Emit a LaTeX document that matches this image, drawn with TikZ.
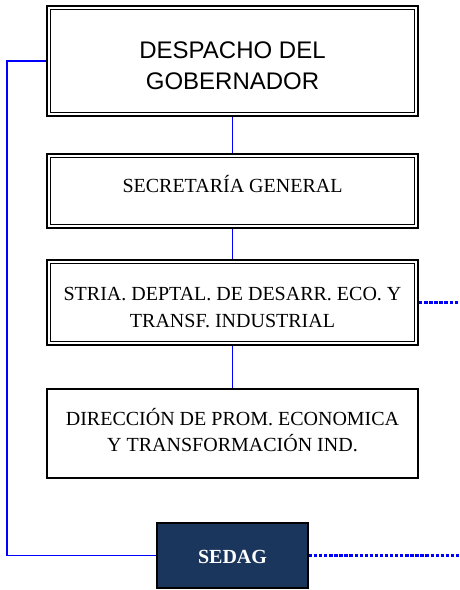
\documentclass[tikz,border=0pt]{standalone}
\usepackage{fontspec}
\setmainfont{Liberation Serif}
\newfontfamily\arialfont{Liberation Sans}
\usepackage{tikz}
\usetikzlibrary{positioning}
\definecolor{azulsedag}{HTML}{1B365D}

\begin{document}
\begin{tikzpicture}[on grid, node distance=97.5pt,
    caja/.style={draw, line width=1.6pt, minimum width=278.25pt, inner sep=0pt},
    doble/.style={caja, path picture={\draw[line width=0.8pt]
                 ([shift={(2.8pt,-2.8pt)}]path picture bounding box.north west) rectangle
                 ([shift={(-2.8pt,2.8pt)}]path picture bounding box.south east);}},
    rotulo/.style={inner sep=0pt, align=center, font=\fontsize{15}{20}\selectfont},
    linea/.style={blue, line width=1.4pt},
    punteada/.style={blue, line width=1.6pt, dash pattern=on 2.5pt off 1.3pt}]
   \useasboundingbox (0,0) rectangle (345pt,-442.5pt);
   \node[doble, minimum height=82.5pt,
         label={[rotulo, font=\arialfont\fontsize{18}{23.5}\selectfont, yshift=-3.5pt]center:DESPACHO DEL\\GOBERNADOR}]
         (gob) at (174.4pt,-45.75pt) {};
   \node[doble, minimum height=55.5pt, label={[rotulo, yshift=5pt]center:SECRETARÍA GENERAL}]
         (sec) [below=of gob] {};
   \node[doble, minimum height=63.75pt, label={[rotulo, yshift=-4pt]center:STRIA. DEPTAL. DE DESARR. ECO. Y\\TRANSF. INDUSTRIAL}]
         (stria) [below=83.6pt of sec] {};
   \node[caja, minimum height=66.75pt, label={[rotulo, yshift=2.5pt]center:DIRECCIÓN DE PROM. ECONOMICA\\Y TRANSFORMACIÓN IND.}]
         (dir) [below=98.25pt of stria] {};
   \node[draw, line width=1.3pt, fill=azulsedag, minimum width=113.25pt, minimum height=48.75pt,
         label={[rotulo, text=white, font=\bfseries\fontsize{15}{18}\selectfont, yshift=-1.5pt]center:SEDAG}]
         (sedag) [below=91.5pt of dir] {};
   \coordinate[right=170.6pt of stria] (finA);
   \coordinate[right=170.6pt of sedag] (finB);
    \path[linea]
    (gob) edge (sec)
    (sec) edge (stria)
    (stria) edge (dir);
    \draw[linea] (gob.west) -- ++(-29.25pt,0) |- (sedag.west);
    \path[punteada]
    (stria) edge (finA)
    (sedag) edge (finB);
\end{tikzpicture}
\end{document}
